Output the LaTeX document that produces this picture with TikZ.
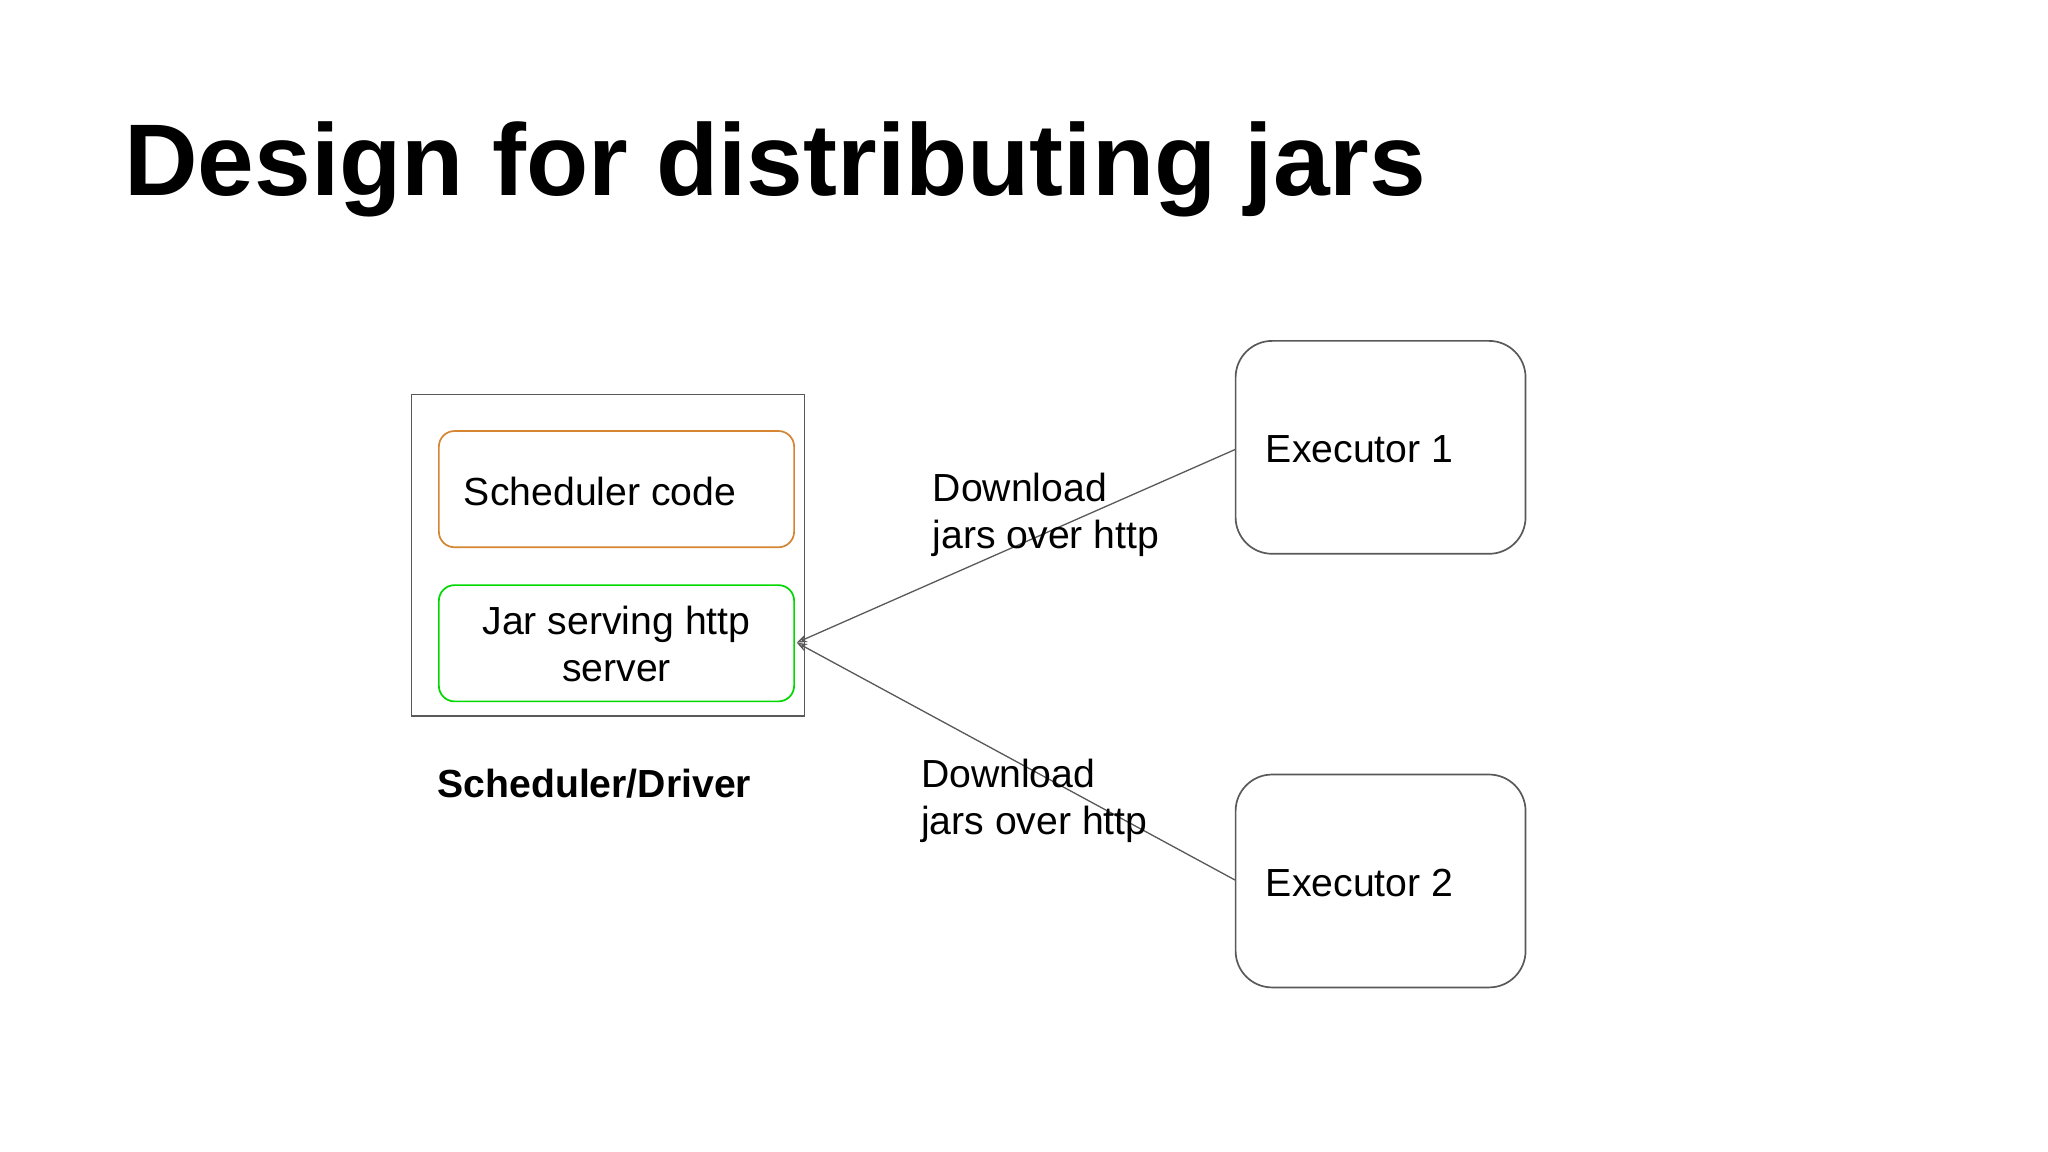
\documentclass[tikz,border=0pt]{standalone}
\usepackage{fontspec}
\setmainfont{Liberation Sans}
\usetikzlibrary{arrows.meta}
\begin{document}
\begin{tikzpicture}[x=1pt,y=-1pt,
  box/.style={draw=#1,line width=1.3pt,rounded corners=12pt},
  lbl/.style={font=\fontsize{30}{36}\selectfont,align=left,inner sep=0pt},
  conn/.style={draw=black!65,line width=1pt,-{Stealth[length=8pt,width=6pt,open]}}]
\useasboundingbox (0,0) rectangle (1568,882);
\node[anchor=base west,inner sep=0pt,font=\fontsize{78}{90}\selectfont\bfseries] (title) at (95,150) {Design for distributing jars};
\draw[black!65,line width=1.3pt] (315,302) rectangle (616,548);
\draw[box={orange!80!black!80}] (336,330) rectangle (608,419);
\node[lbl,anchor=west] (sc) at (355,376) {Scheduler code};
\draw[box={green!85!black}] (336,448) rectangle (608,537);
\coordinate (jar) at (610,492);
\node[lbl,align=center] (js) at (472,493) {Jar serving http\\server};
\node[lbl,font=\fontsize{30}{36}\selectfont\bfseries] (sd) at (455,600) {Scheduler/Driver};
\draw[box={black!65},rounded corners=28pt] (946,261) rectangle (1168,424);
\draw[box={black!65},rounded corners=28pt] (946,593) rectangle (1168,756);
\coordinate (e1) at (946,344);
\coordinate (e2) at (946,674);
\node[lbl,anchor=west] (t1) at (969,344) {Executor 1};
\node[lbl,anchor=west] (t2) at (969,676) {Executor 2};
\draw[conn] (e1) -- (jar);
\draw[conn] (e2) -- (jar);
\node[lbl,anchor=north west] (d1) at (714,362) {Download\\jars over http};
\node[lbl,anchor=north west] (d2) at (705,581) {Download\\jars over http};
\end{tikzpicture}
\end{document}
